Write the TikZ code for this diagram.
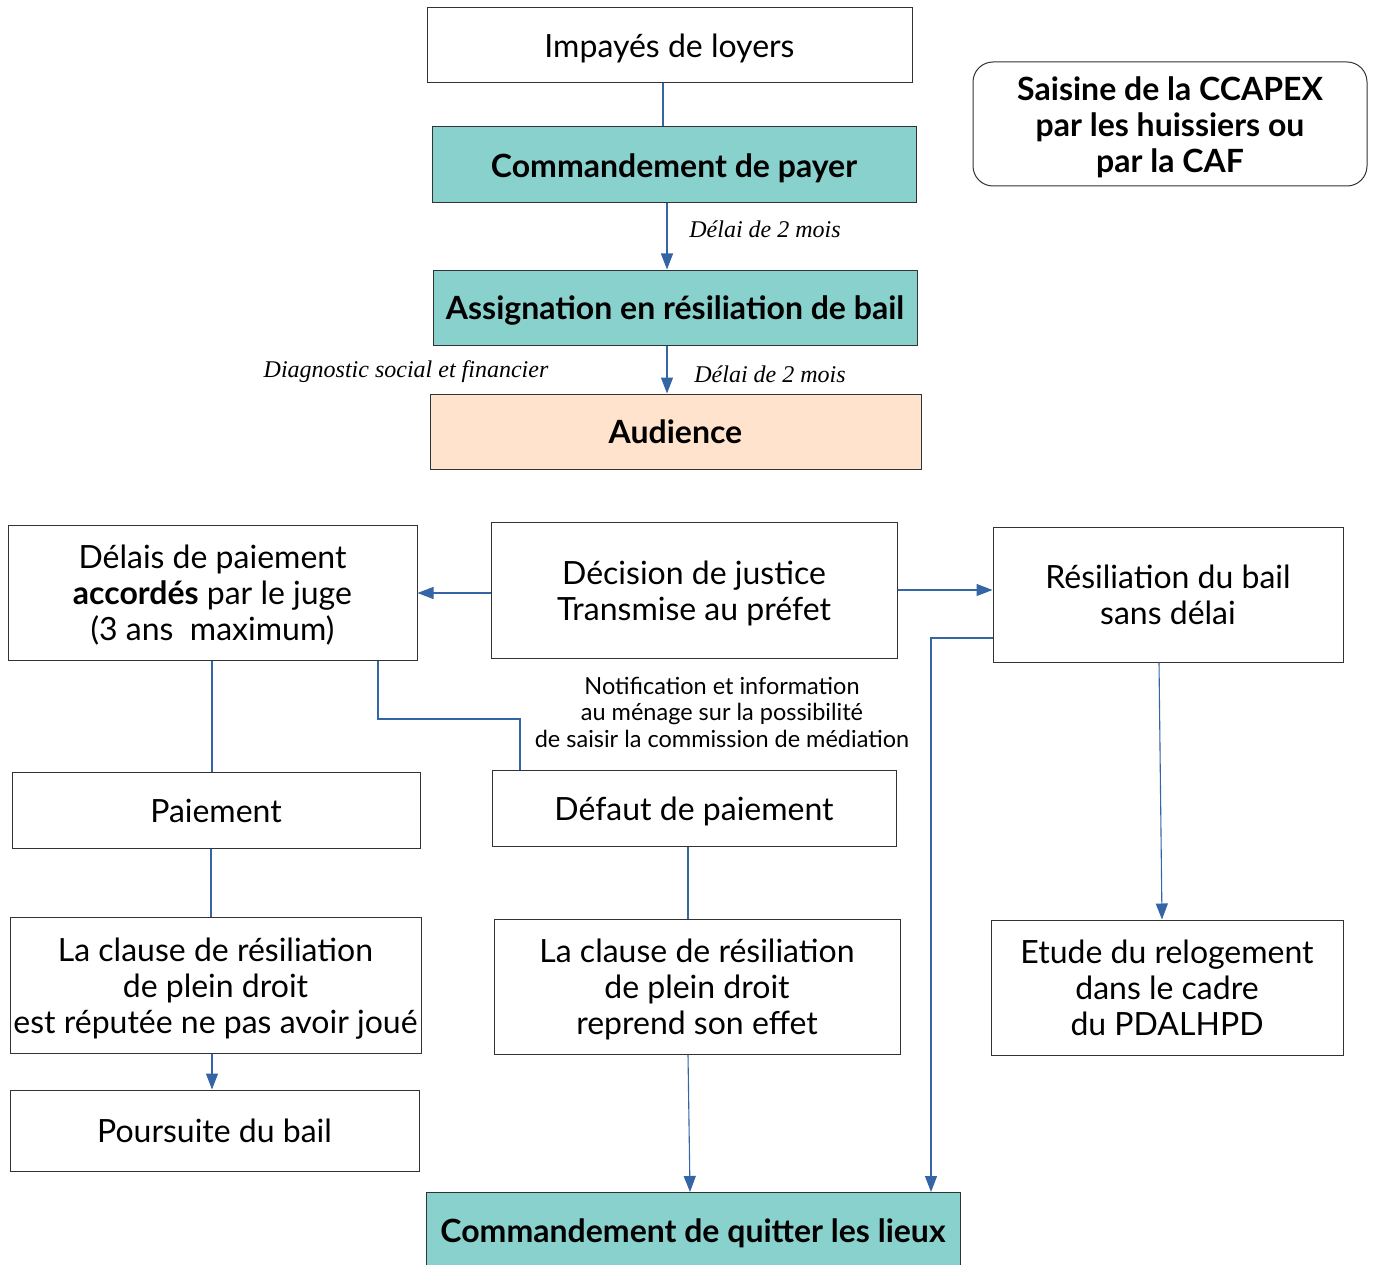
\documentclass[tikz,border=0pt]{standalone}
\usepackage{fontspec}
\setmainfont{Lato}
\newfontfamily\labelfont{Liberation Serif}
\usetikzlibrary{arrows.meta}
\definecolor{teal1}{RGB}{136,209,204}
\definecolor{peach}{RGB}{255,227,204}
\definecolor{linkblue}{RGB}{52,101,164}
\newcommand{\boxlines}[1]{\raisebox{0pt}[\dimexpr\height+10pt\relax][\depth]{\begin{tabular}{@{}c@{}}#1\end{tabular}}}
\begin{document}
\begin{tikzpicture}[x=1pt,y=-1pt,
  box/.style={draw=black!80, line width=1pt, fill=white, inner sep=0pt,
    font=\fontsize{32}{36}\selectfont},
  hbox/.style={box, fill=teal1, font=\fontsize{32}{36}\selectfont\bfseries},
  link/.style={draw=linkblue, line width=1.1pt},
  arrow/.style={link, -{Triangle[length=16pt,width=12pt]}},
  lbl/.style={font=\labelfont\itshape\fontsize{24}{28}\selectfont, inner sep=0pt},
  note/.style={font=\fontsize{23.5}{26.5}\selectfont, align=center, inner sep=0pt}]
\useasboundingbox (0,0) rectangle (1375,1265);

% top chain
\node[box, minimum width=485pt, minimum height=75pt] (impayes) at (669.5,45.5) {\boxlines{Impayés de loyers}};
\node[hbox, minimum width=484pt, minimum height=76pt] (cmdpayer) at (674,165) {\boxlines{Commandement de payer}};
\node[hbox, minimum width=484pt, minimum height=75pt] (assign) at (675,307.5) {\boxlines{Assignation en résiliation de bail}};
\node[box, fill=peach, font=\fontsize{32}{36}\selectfont\bfseries, minimum width=491pt, minimum height=75pt] (audience) at (675.5,431.5) {\boxlines{Audience}};

\node[box, rounded corners=20pt, minimum width=394pt, minimum height=124pt, font=\fontsize{32}{36}\selectfont\bfseries] (saisine) at (1170,124) {\boxlines{Saisine de la CCAPEX\\par les huissiers ou\\par la CAF}};

% middle row
\node[box, minimum width=409pt, minimum height=135pt] (delais) at (212.5,592.5) {\boxlines{Délais de paiement\\\textbf{accordés} par le juge\\(3 ans\ \ maximum)}};
\node[box, minimum width=406pt, minimum height=136pt] (decision) at (694,590) {\boxlines{Décision de justice\\Transmise au préfet}};
\node[box, minimum width=350pt, minimum height=135pt] (resil) at (1168,594.5) {\boxlines{Résiliation du bail\\sans délai}};

\node[note] (notif) at (722,712) {Notification et information\\au ménage sur la possibilité\\de saisir la commission de médiation};

\node[box, minimum width=408pt, minimum height=76pt] (paiement) at (216,810) {\boxlines{Paiement}};
\node[box, minimum width=404pt, minimum height=76pt] (defaut) at (694,808) {\boxlines{Défaut de paiement}};

\node[box, minimum width=411pt, minimum height=136pt] (clauseL) at (215.5,985) {\boxlines{La clause de résiliation\\de plein droit\\est réputée ne pas avoir joué}};
\node[box, minimum width=406pt, minimum height=135pt] (clauseM) at (697,986.5) {\boxlines{La clause de résiliation\\de plein droit\\reprend son effet}};
\node[box, minimum width=352pt, minimum height=135pt] (etude) at (1167,987.5) {\boxlines{Etude du relogement\\dans le cadre\\du PDALHPD}};

\node[box, minimum width=409pt, minimum height=81pt] (poursuite) at (214.5,1130.5) {\boxlines{Poursuite du bail}};
\node[hbox, minimum width=534pt, minimum height=76pt, anchor=north] (quitter) at (693,1192) {\boxlines{Commandement de quitter les lieux}};

% labels
\node[lbl] (l1) at (765,229) {Délai de 2 mois};
\node[lbl] (l2) at (770,374) {Délai de 2 mois};
\node[lbl] (l3) at (406,372) {Diagnostic social et financier};

% connectors
\draw[link] (impayes.south -| 663,0) -- (cmdpayer.north -| 663,0);
\draw[arrow] (cmdpayer.south -| 667,0) -- (assign.north -| 667,0);
\draw[arrow] (assign.south -| 667,0) -- (audience.north -| 667,0);

\draw[arrow] (decision.west |- 0,593) -- (delais.east |- 0,593);
\draw[arrow] (decision.east |- 0,590) -- (resil.west |- 0,590);

\draw[link] (delais.south -| 212,0) -- (paiement.north -| 212,0);
\coordinate (bendA) at (378,719);
\coordinate (bendB) at (520,719);
\draw[link] (delais.south -| bendA) -- (bendA) -- (bendB) -- (defaut.north -| bendB);

\draw[link] (paiement.south -| 211,0) -- (clauseL.north -| 211,0);
\draw[arrow] (clauseL.south -| 212,0) -- (poursuite.north -| 212,0);

\draw[link] (defaut.south -| 688,0) -- (clauseM.north -| 688,0);
\draw[arrow] (clauseM.south -| 688,0) -- (quitter.north -| 690,0);

\coordinate (bendC) at (931,638);
\draw[arrow] (resil.west |- bendC) -- (bendC) -- (quitter.north -| bendC);
\draw[arrow] (resil.south -| 1159,0) -- (etude.north -| 1162,0);
\end{tikzpicture}
\end{document}
